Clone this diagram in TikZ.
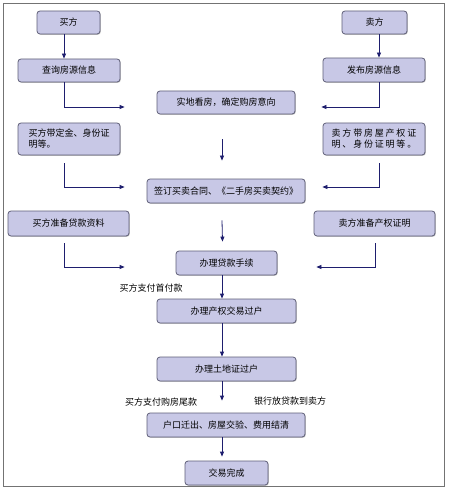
\documentclass[tikz,border=0pt]{standalone}
\usepackage{fontspec}
\setmainfont{Noto Sans CJK SC}
\newfontfamily\widefont[LetterSpace=20]{Noto Sans CJK SC}
\usepackage{tikz}
\usetikzlibrary{arrows.meta,shadows}
\definecolor{boxfill}{RGB}{200,200,230}
\definecolor{boxline}{RGB}{95,95,120}
\definecolor{arrowc}{RGB}{30,30,110}

\begin{document}
\begin{tikzpicture}[x=1pt, y=-1pt, font=\fontsize{9}{11}\selectfont,
  main/.style = {draw=boxline, fill=boxfill, line width=0.8pt, rounded corners=3pt,
    minimum height=24pt, inner sep=2pt, drop shadow={shadow xshift=0.8pt, shadow yshift=-0.8pt, fill=black!45}},
  note/.style = {inner sep=1pt},
  >={Triangle[length=5pt,width=4pt]}]
\useasboundingbox (0,0) rectangle (450,489);
\fill[white] (0,0) rectangle (450,489);
\draw[black!55, line width=0.8pt] (3,3) rectangle (444,486);
%\node[parameter] (nodeID) at (x,y) {label};
\node[main, minimum width=63pt, minimum height=23pt] (1) at (68.5,22.5) {买方};
\node[main, minimum width=65pt, minimum height=23pt] (2) at (374.5,22.5) {卖方};
\node[main, minimum width=102pt, minimum height=23pt] (3) at (69,70.5) {查询房源信息};
\node[main, minimum width=102pt] (4) at (374,70) {发布房源信息};
\node[main, minimum width=138pt, minimum height=23pt] (5) at (226,102.5) {实地看房，确定购房意向};
\node[main, minimum width=102pt, minimum height=32pt, align=left] (6) at (69,139) {买方带定金、身份证\\明等。};
\node[main, minimum width=102pt, minimum height=32pt, align=left, font=\fontsize{9}{11}\widefont] (7) at (374,139) {卖方带房屋产权证\\明、身份证明等。};
\node[main, minimum width=158pt] (8) at (226,191) {签订买卖合同、《二手房买卖契约》};
\node[main, minimum width=121pt, minimum height=25pt] (9) at (68.5,223.5) {买方准备贷款资料};
\node[main, minimum width=121pt, minimum height=25pt] (10) at (374.5,223.5) {卖方准备产权证明};
\node[main, minimum width=101pt] (11) at (226.5,263) {办理贷款手续};
\node[main, minimum width=139pt] (12) at (226.5,311) {办理产权交易过户};
\node[main, minimum width=139pt] (13) at (226.5,369) {办理土地证过户};
\node[main, minimum width=158pt] (14) at (226,425) {户口迁出、房屋交验、费用结清};
\node[main, minimum width=83pt] (15) at (226.5,473) {交易完成};
\node[note] (16) at (151,288) {买方支付首付款};
\node[note] (17) at (161,402) {买方支付购房尾款};
\node[note] (18) at (290,401) {银行放贷款到卖方};
\begin{scope}[arrowc, line width=0.8pt]
\draw[->] ([xshift=-4.5pt]1.south) -- ([xshift=-4.5pt]1.south |- 3.north);
\draw[->] ([xshift=4.5pt]2.south) -- ([xshift=4.5pt]2.south |- 4.north);
\draw[->] ([xshift=-5pt]3.south) |- ([xshift=-32pt,yshift=-4.5pt]5.west);
\draw[->] ([xshift=5pt]4.south) |- ([xshift=26pt,yshift=-4.5pt]5.east);
\draw[->] ([xshift=-4pt,yshift=-25pt]5.south) -- ([xshift=-4pt,yshift=18pt]8.north);
\draw[->] ([xshift=-5pt,yshift=-8pt]6.south) |- ([xshift=-22pt,yshift=4pt]8.west);
\draw[->] ([xshift=5pt,yshift=-8pt]7.south) |- ([xshift=17pt,yshift=4pt]8.east);
\draw[->] ([xshift=-4pt,yshift=-17pt]8.south) -- ([xshift=-4pt,yshift=9pt]11.north);
\draw[->] ([xshift=-4.5pt,yshift=-7pt]9.south) |- ([xshift=-51pt,yshift=-4pt]11.west);
\draw[->] ([xshift=0.5pt,yshift=-7pt]10.south) |- ([xshift=39pt,yshift=-4pt]11.east);
\draw[->] ([xshift=-4.5pt]11.south) -- ([xshift=-4.5pt]11.south |- 12.north);
\draw[->] ([xshift=-4.5pt]12.south) -- ([xshift=-4.5pt]12.south |- 13.north);
\draw[->] ([xshift=-4.5pt]13.south) -- ([xshift=-4.5pt,yshift=12pt]13.south |- 14.north);
\draw[->] ([xshift=-4pt]14.south) -- ([xshift=-4pt,yshift=4pt]14.south |- 15.north);
\end{scope}
\end{tikzpicture}
\end{document}
